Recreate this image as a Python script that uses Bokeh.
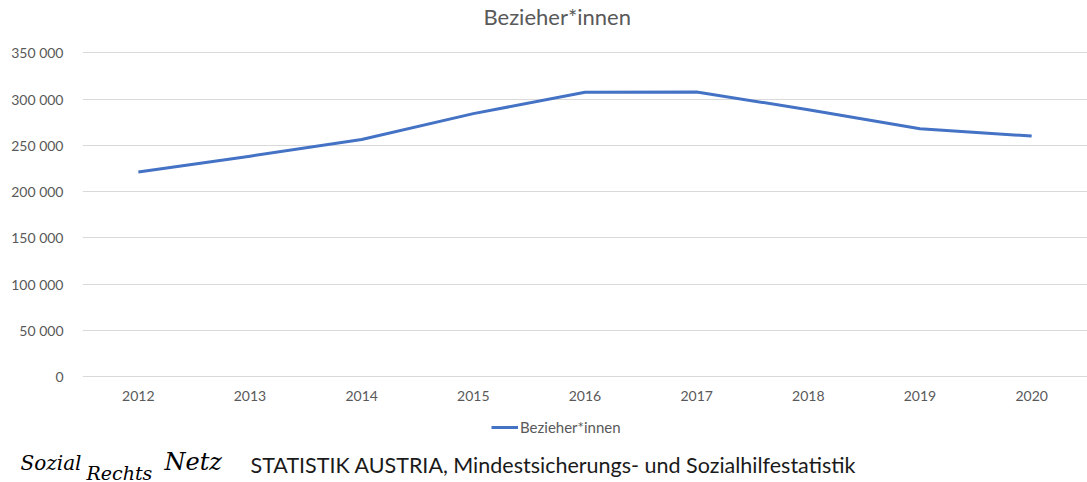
from bokeh.plotting import figure
from bokeh.layouts import column, row
from bokeh.models import (Range1d, FactorRange, CustomJSTickFormatter, FixedTicker,
                          Label, Legend, LegendItem, ColumnDataSource, Title)
from bokeh.embed import file_html
from bokeh.resources import INLINE

years = ["2012", "2013", "2014", "2015", "2016", "2017", "2018", "2019", "2020"]
bezieher = [221300, 238400, 256400, 284400, 307500, 307900, 288600, 268100, 260100]
y_ticks = [0, 50000, 100000, 150000, 200000, 250000, 300000, 350000]
title_text = "Bezieher*innen"
series_name = "Bezieher*innen"
source_text = "STATISTIK AUSTRIA, Mindestsicherungs- und Sozialhilfestatistik"

FONT = "Lato"
GREY = "#595959"
BLUE = "#4472c4"

src = ColumnDataSource(dict(year=years, value=bezieher))

p = figure(width=1087, height=408, output_backend="svg", toolbar_location=None,
           x_range=FactorRange(*years, range_padding=0), y_range=Range1d(-2160, 351620),
           min_border_left=82, min_border_top=50, min_border_right=0, min_border_bottom=30)
p.outline_line_color = None
p.background_fill_color = "white"
p.border_fill_color = "white"

p.title = Title(text=title_text, align="left", offset=401, standoff=0,
                vertical_align="bottom",
                text_font=FONT, text_font_size="22px", text_font_style="normal",
                text_color=GREY)
# blank spacer between the title and the plot area
p.add_layout(Title(text=" ", text_font_size="1px", standoff=19), "above")

r = p.line("year", "value", source=src, line_color=BLUE, line_width=3, line_join="round")

p.xgrid.grid_line_color = None
p.ygrid.grid_line_color = "#d9d9d9"
p.ygrid.grid_line_width = 1

p.yaxis.ticker = FixedTicker(ticks=y_ticks)
p.yaxis.formatter = CustomJSTickFormatter(code="return tick.toFixed(0).replace(/\\B(?=(\\d{3})+(?!\\d))/g, ' ');")
for ax in (p.xaxis, p.yaxis):
    ax.axis_line_color = None
    ax.major_tick_line_color = None
    ax.minor_tick_line_color = None
    ax.major_tick_in = 0
    ax.major_tick_out = 0
    ax.major_label_text_font = FONT
    ax.major_label_text_font_size = "14px"
    ax.major_label_text_color = GREY
p.yaxis.major_label_standoff = 19
p.xaxis.major_label_standoff = 12

# footer figure: legend + source line + logo lettering
q = figure(width=1087, height=74, output_backend="svg", toolbar_location=None,
           x_range=Range1d(0, 1087), y_range=Range1d(0, 74),
           min_border_left=0, min_border_top=0, min_border_right=0, min_border_bottom=0)
q.axis.visible = False
q.grid.visible = False
q.outline_line_color = None
q.background_fill_color = "white"
q.border_fill_color = "white"

# legend swatch renderer (kept outside the visible footer area)
legend_proxy = q.line(x=[-20, -10], y=[-20, -20], line_color=BLUE, line_width=3)
legend = Legend(items=[LegendItem(label=series_name, renderers=[legend_proxy])],
                location=(491, 46), orientation="horizontal",
                border_line_color=None, background_fill_alpha=0,
                padding=0, margin=0, glyph_width=27, glyph_height=14,
                label_height=14, label_standoff=2,
                label_text_font=FONT, label_text_font_size="15px", label_text_color=GREY)
q.add_layout(legend)

q.add_layout(Label(x=250, y=18, x_units="screen", y_units="screen", text=source_text,
                   text_align="left", text_baseline="middle", text_font=FONT,
                   text_font_size="21.5px", text_color="#1a1a1a"))
q.add_layout(Label(x=20, y=20, x_units="screen", y_units="screen", text="Sozial",
                   text_align="left", text_baseline="middle", text_font="DejaVu Serif",
                   text_font_style="italic", text_font_size="20px", text_color="black"))
q.add_layout(Label(x=86, y=10, x_units="screen", y_units="screen", text="Rechts",
                   text_align="left", text_baseline="middle", text_font="DejaVu Serif",
                   text_font_style="italic", text_font_size="19px", text_color="black"))
q.add_layout(Label(x=164, y=21, x_units="screen", y_units="screen", text="Netz",
                   text_align="left", text_baseline="middle", text_font="DejaVu Serif",
                   text_font_style="italic", text_font_size="24px", text_color="black"))

layout = column(p, row(q), spacing=0)
open("out.html", "w").write(file_html(layout, INLINE))
